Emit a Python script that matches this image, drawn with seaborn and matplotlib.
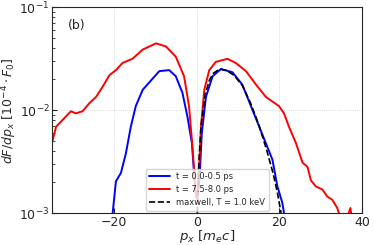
import numpy as np
import pandas as pd
import matplotlib
matplotlib.use('Agg')
import matplotlib.pyplot as plt
import seaborn as sns

# red curve, t = 7.5-8.0 ps (log10 values)
red_px = [-35.1, -34.1, -32.9, -31.7, -30.5, -29.3, -27.7, -26.0, -24.4, -22.8, -21.2, -19.6,
          -18.0, -15.6, -13.1, -9.9, -7.5, -5.1, -3.1, -1.9, -1.0, -0.4, -0.1,
          0.1, 0.4, 1.0, 1.8, 3.0, 4.6, 7.4, 9.4, 11.9, 14.3, 16.7, 19.9, 21.1, 22.3,
          24.0, 25.6, 26.8, 27.6, 28.8, 30.4, 31.6, 32.8, 34.0, 34.4, 35.0, 36.0, 37.2, 37.6]
red_log = [-2.32, -2.16, -2.11, -2.06, -2.01, -2.03, -2.01, -1.93, -1.87, -1.77, -1.66, -1.61,
           -1.54, -1.50, -1.41, -1.35, -1.38, -1.48, -1.67, -1.96, -2.39, -2.74, -2.85,
           -2.85, -2.70, -2.16, -1.80, -1.61, -1.53, -1.50, -1.54, -1.62, -1.75, -1.87, -1.96, -2.03, -2.16,
           -2.32, -2.51, -2.55, -2.68, -2.74, -2.77, -2.84, -2.87, -2.95, -3.00, -3.05, -3.08, -2.95, -3.08]

# blue curve, t = 0.0-0.5 ps
blue_px = [-20.4, -19.6, -18.4, -17.2, -16.0, -14.8, -13.1, -11.1, -9.1, -6.7, -5.1, -3.5,
           -2.3, -1.2, -0.4, -0.1, 0.1, 0.6, 1.2, 2.2, 3.8, 5.8, 8.6, 11.0, 13.5, 15.1,
           16.7, 18.3, 19.5, 20.7, 21.1, 21.3]
blue_log = [-3.00, -2.69, -2.61, -2.42, -2.16, -1.96, -1.80, -1.71, -1.62, -1.61, -1.67, -1.83,
            -2.06, -2.32, -2.77, -2.85, -2.85, -2.70, -2.22, -1.87, -1.67, -1.60, -1.63, -1.75, -2.00, -2.16,
            -2.32, -2.48, -2.74, -2.90, -3.00, -3.05]

# maxwell fit, T = 1.0 keV
mx_px = [0.1, 0.5, 1.0, 2.0, 3.0, 4.0, 5.5, 7.0, 9.0, 11.0, 13.0, 15.0, 17.0, 18.5, 19.5, 20.4]
mx_log = [-3.0, -2.5, -2.15, -1.85, -1.71, -1.64, -1.60, -1.61, -1.66, -1.76, -1.93, -2.14,
          -2.40, -2.62, -2.80, -3.0]

sns.set_style('ticks')
plt.rcParams['font.family'] = ['DejaVu Sans']

fig, ax = plt.subplots(figsize=(3.74, 2.45), dpi=100)

sns.lineplot(x=blue_px, y=10 ** np.array(blue_log), color='blue', lw=1.4, ax=ax,
             label='t = 0.0-0.5 ps')
sns.lineplot(x=red_px, y=10 ** np.array(red_log), color='red', lw=1.4, ax=ax,
             label='t = 7.5-8.0 ps')
sns.lineplot(x=mx_px, y=10 ** np.array(mx_log), color='black', lw=1.2, ls='--', ax=ax,
             label='maxwell, T = 1.0 keV')

ax.set_yscale('log')
ax.set_xlim(-35, 40)
ax.set_ylim(1e-3, 1e-1)
ax.set_xticks([-20, 0, 20, 40])
ax.grid(True, ls=':', lw=0.6, color='#cccccc')
ax.tick_params(direction='in', which='both', labelsize=9, pad=2)
ax.set_xlabel(r'$p_x\ [m_e c]$', fontsize=9.5, labelpad=-1)
ax.set_ylabel(r'$dF/dp_x\ [10^{-4}\cdot F_0]$', fontsize=9, labelpad=0)
ax.text(0.05, 0.91, '(b)', transform=ax.transAxes, fontsize=9, va='center')
ax.legend(loc='lower center', fontsize=6, frameon=True, handlelength=2.5, borderaxespad=0.3)

fig.subplots_adjust(left=0.14, right=0.968, top=0.97, bottom=0.13)
fig.savefig('out.png', dpi=100)
